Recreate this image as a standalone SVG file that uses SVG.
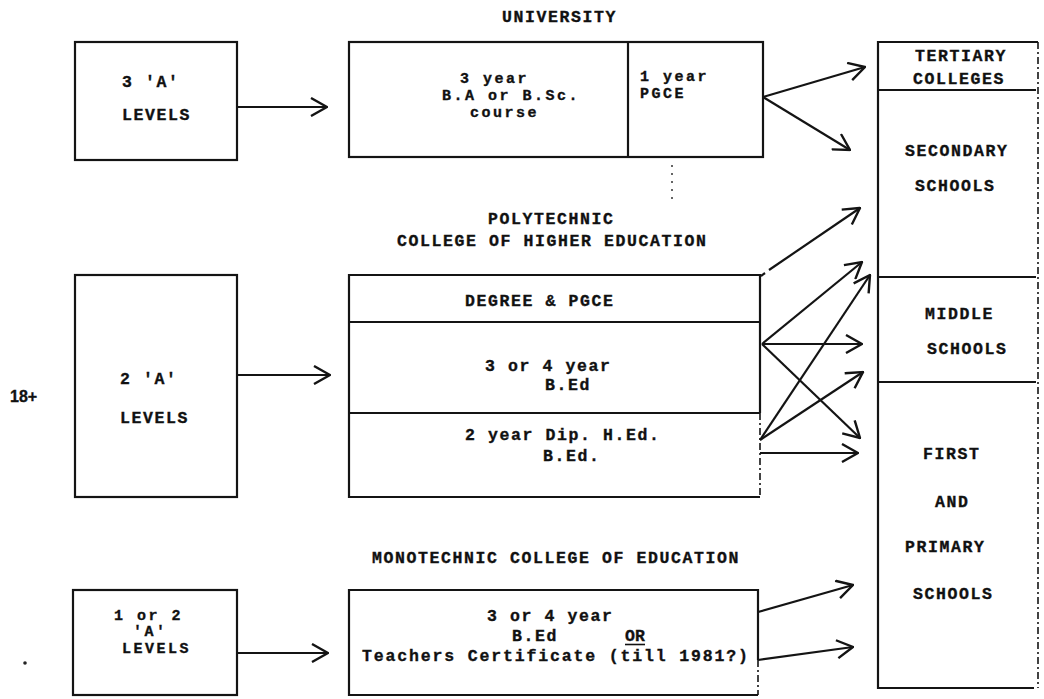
<svg xmlns="http://www.w3.org/2000/svg" width="1044" height="699" viewBox="0 0 1044 699">
<style>
  .box { fill: #fff; stroke: #141414; stroke-width: 2.2; }
  .ln { fill: none; stroke: #141414; stroke-width: 2.2; }
  .dash { fill: none; stroke: #141414; stroke-width: 1.6; stroke-dasharray: 7 3 2 3; }
  .dot { fill: none; stroke: #333; stroke-width: 1.5; stroke-dasharray: 2 6; }
  .arr { fill: none; stroke: #141414; stroke-width: 2.2; marker-end: url(#ah); }
  text { font-family: "Liberation Mono", "Courier New", monospace; font-weight: bold; font-size: 16.5px; letter-spacing: 1.6px; fill: #111; stroke: #111; stroke-width: 0.35px; }
  .tight { font-size: 15px; letter-spacing: 2.5px; }
  .age { font-family: "Liberation Sans", Arial, sans-serif; font-size: 16px; letter-spacing: 0; }
</style>
<defs>
  <marker id="ah" viewBox="0 0 18 20" refX="17" refY="10" markerWidth="18" markerHeight="20" markerUnits="userSpaceOnUse" orient="auto">
    <path d="M1,1 L17,10 L1,19" fill="none" stroke="#141414" stroke-width="2.4"/>
  </marker>
</defs>
<rect width="1044" height="699" fill="#fff"/>

<!-- left entry boxes -->
<g id="a3">
  <rect class="box" x="75" y="42" width="162" height="118"/>
  <text x="122" y="87">3 'A'</text>
  <text x="122" y="120">LEVELS</text>
</g>
<g id="a2">
  <rect class="box" x="75" y="275" width="162" height="222"/>
  <text x="120" y="384">2 'A'</text>
  <text x="120" y="423">LEVELS</text>
</g>
<g id="a1">
  <rect class="box" x="73" y="590" width="164" height="105"/>
  <text class="tight" x="114" y="620">1 or 2</text>
  <text class="tight" x="133" y="636">'A'</text>
  <text class="tight" x="122" y="653">LEVELS</text>
</g>
<g id="age">
  <text class="age" x="10" y="402">18+</text>
  <circle cx="25" cy="663" r="1.8" fill="#222"/>
</g>

<!-- university -->
<g id="university">
  <text x="502" y="22">UNIVERSITY</text>
  <rect class="box" x="349" y="42" width="414" height="115"/>
  <line class="ln" x1="628" y1="42" x2="628" y2="157"/>
  <text class="tight" x="460" y="83">3 year</text>
  <text class="tight" x="442" y="100">B.A or B.Sc.</text>
  <text class="tight" x="470" y="117">course</text>
  <text class="tight" x="640" y="81">1 year</text>
  <text class="tight" x="640" y="98">PGCE</text>
</g>

<!-- polytechnic -->
<g id="polytechnic">
  <text x="488" y="224">POLYTECHNIC</text>
  <text x="397" y="246">COLLEGE OF HIGHER EDUCATION</text>
  <path class="ln" d="M760,413 L760,275 L349,275 L349,497 L760,497"/>
  <path class="dash" d="M760,413 L760,497"/>
  <line class="ln" x1="349" y1="322" x2="760" y2="322"/>
  <line class="ln" x1="349" y1="413" x2="760" y2="413"/>
  <text x="465" y="306">DEGREE &amp; PGCE</text>
  <text x="485" y="371">3 or 4 year</text>
  <text x="545" y="390">B.Ed</text>
  <text x="465" y="440">2 year Dip. H.Ed.</text>
  <text x="543" y="461">B.Ed.</text>
</g>

<!-- monotechnic -->
<g id="monotechnic">
  <text x="372" y="563">MONOTECHNIC COLLEGE OF EDUCATION</text>
  <path class="ln" d="M758,660 L758,590 L349,590 L349,695 L758,695"/>
  <path class="dash" d="M758,660 L758,695"/>
  <text x="487" y="621">3 or 4 year</text>
  <text x="512" y="641">B.Ed</text>
  <text x="625" y="641" style="letter-spacing:0px">OR</text>
  <line x1="625" y1="644.5" x2="645" y2="644.5" stroke="#111" stroke-width="1.6"/>
  <text x="362" y="661" style="letter-spacing:1.85px">Teachers Certificate (till 1981?)</text>
</g>

<!-- schools column -->
<g id="schools">
  <path class="ln" d="M1038,42 L878,42 L878,688 L1034,688"/>
  <path class="dash" d="M1038,42 L1038,688"/>
  <line class="ln" x1="878" y1="90" x2="1036" y2="90"/>
  <line class="ln" x1="878" y1="277" x2="1036" y2="277"/>
  <line class="ln" x1="878" y1="382" x2="1036" y2="382"/>
  <text x="915" y="61">TERTIARY</text>
  <text x="913" y="84">COLLEGES</text>
  <text x="905" y="156">SECONDARY</text>
  <text x="915" y="191">SCHOOLS</text>
  <text x="925" y="319">MIDDLE</text>
  <text x="927" y="354">SCHOOLS</text>
  <text x="923" y="459">FIRST</text>
  <text x="935" y="507">AND</text>
  <text x="905" y="552">PRIMARY</text>
  <text x="913" y="599">SCHOOLS</text>
</g>

<!-- connectors -->
<g id="connectors">
  <line class="arr" x1="237" y1="107" x2="327" y2="107"/>
  <line class="arr" x1="237" y1="375" x2="330" y2="375"/>
  <line class="arr" x1="237" y1="653" x2="328" y2="653"/>

  <line class="arr" x1="763" y1="97" x2="865" y2="67"/>
  <line class="arr" x1="763" y1="97" x2="850" y2="150"/>

  <line class="ln" x1="761" y1="276" x2="765" y2="273"/>
  <line class="arr" x1="769" y1="270" x2="860" y2="208"/>
  <line class="arr" x1="762" y1="344" x2="862" y2="262"/>
  <line class="arr" x1="762" y1="344" x2="862" y2="344"/>
  <line class="arr" x1="762" y1="344" x2="860" y2="438"/>
  <line class="arr" x1="760" y1="440" x2="870" y2="275"/>
  <line class="arr" x1="760" y1="440" x2="863" y2="372"/>
  <line class="arr" x1="760" y1="453" x2="858" y2="453"/>

  <line class="arr" x1="758" y1="612" x2="853" y2="585"/>
  <line class="arr" x1="758" y1="660" x2="853" y2="647"/>
</g>

<path class="dot" d="M672,165 L672,205"/>
</svg>
